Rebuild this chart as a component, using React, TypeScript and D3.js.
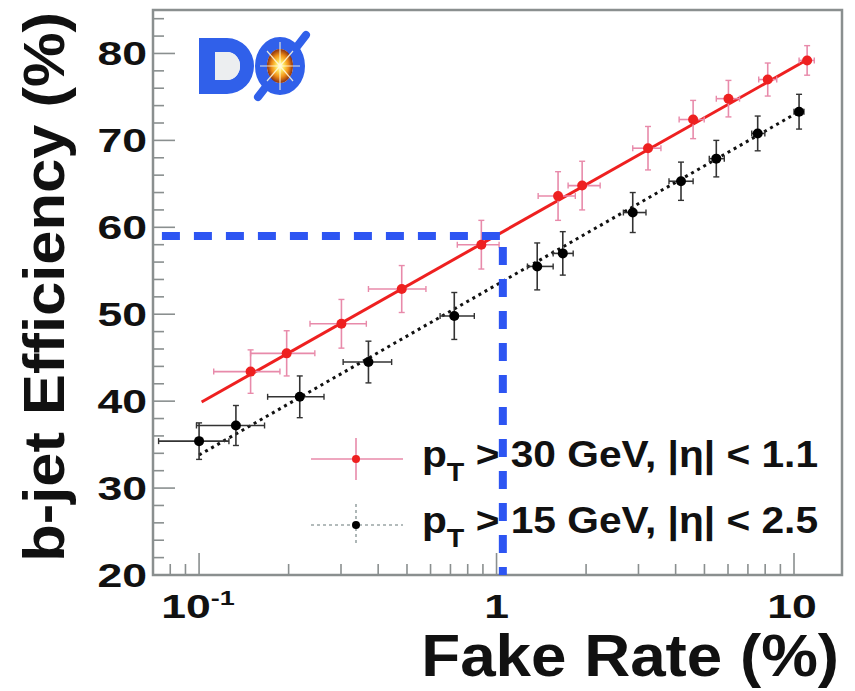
import React from "react";
import * as d3 from "d3";

// pT > 30 GeV, |eta| < 1.1
const redRate = [0.149, 0.197, 0.301, 0.48, 0.889, 1.61, 1.94, 3.23, 4.58, 6.02, 8.16, 11.07];
const redEff = [43.4, 45.5, 48.9, 52.9, 58.0, 63.6, 64.8, 69.1, 72.4, 74.8, 77.0, 79.2];
const redRateLo = [0.112, 0.149, 0.236, 0.371, 0.738, 1.38, 1.74, 2.87, 4.11, 5.48, 7.61, 10.4];
const redRateHi = [0.187, 0.245, 0.365, 0.579, 1.02, 1.84, 2.23, 3.57, 4.99, 6.56, 8.75, 11.7];
const redEffErr = [2.5, 2.6, 2.8, 2.7, 2.8, 2.8, 2.8, 2.5, 2.2, 2.1, 1.9, 1.7];
const redFitRate = [0.102, 11.1];
const redFitEff = [39.9, 79.3];

// pT > 15 GeV, |eta| < 2.5
const blackRate = [0.1, 0.133, 0.218, 0.371, 0.721, 1.37, 1.67, 2.87, 4.17, 5.48, 7.55, 10.4];
const blackEff = [35.4, 37.2, 40.5, 44.5, 49.8, 55.5, 57.0, 61.7, 65.3, 67.9, 70.8, 73.3];
const blackRateLo = [0.0731, 0.098, 0.17, 0.305, 0.646, 1.27, 1.55, 2.67, 3.8, 5.19, 7.21, 10.0];
const blackRateHi = [0.126, 0.166, 0.263, 0.444, 0.842, 1.55, 1.81, 3.18, 4.58, 5.83, 7.98, 10.8];
const blackEffErr = [2.1, 2.3, 2.4, 2.4, 2.7, 2.7, 2.5, 2.3, 2.2, 2.1, 2.0, 2.0];
const blackFitRate = [0.1, 10.4];
const blackFitEff = [33.8, 73.3];

// working point guide
const wpStartRate = 0.075;
const wpRate = 1.05;
const wpEff = 59.0;

const yMajor = [20, 30, 40, 50, 60, 70, 80];
const yMinor = d3.range(20, 85, 2);
const xMajor = [0.1, 1, 10];
const xMinor = [0.08, 0.09, 0.2, 0.3, 0.4, 0.5, 0.6, 0.7, 0.8, 0.9, 2, 3, 4, 5, 6, 7, 8, 9];

const legendLabels = [
  { num: "30", eta: "1.1" },
  { num: "15", eta: "2.5" },
];

const W = 855;
const H = 691;
const L = 153;
const R = 842;
const T = 10;
const B = 575;

const FONT = "'Liberation Sans', Arial, Helvetica, sans-serif";

export default function App() {
  const x = d3.scaleLog().domain([0.07, 14.5]).range([L, R]);
  const y = d3.scaleLinear().domain([20, 85]).range([B, T]);

  const frameColor = "#8a8f8f";
  const red = "#ee2020";
  const pink = "#e88aaa";
  const blue = "#2d55f2";
  const logoBlue = "#3060ea";

  const line = d3
    .line<[number, number]>()
    .x((d) => x(d[0]))
    .y((d) => y(d[1]));

  const redFit: [number, number][] = redFitRate.map((r, i) => [r, redFitEff[i]]);
  const blackFit: [number, number][] = blackFitRate.map((r, i) => [r, blackFitEff[i]]);

  const cap = 3;

  const series = (
    rate: number[],
    eff: number[],
    lo: number[],
    hi: number[],
    err: number[],
    barColor: string,
    markColor: string,
    r: number
  ) =>
    rate.map((v, i) => {
      const cx = x(v);
      const cy = y(eff[i]);
      const y0 = y(eff[i] - err[i]);
      const y1 = y(eff[i] + err[i]);
      const x0 = x(lo[i]);
      const x1 = x(hi[i]);
      return (
        <g key={i}>
          <line x1={x0} x2={x1} y1={cy} y2={cy} stroke={barColor} strokeWidth={1.6} />
          <line x1={cx} x2={cx} y1={y0} y2={y1} stroke={barColor} strokeWidth={1.6} />
          <line x1={cx - cap} x2={cx + cap} y1={y0} y2={y0} stroke={barColor} strokeWidth={1.4} />
          <line x1={cx - cap} x2={cx + cap} y1={y1} y2={y1} stroke={barColor} strokeWidth={1.4} />
          <line x1={x0} x2={x0} y1={cy - cap} y2={cy + cap} stroke={barColor} strokeWidth={1.4} />
          <line x1={x1} x2={x1} y1={cy - cap} y2={cy + cap} stroke={barColor} strokeWidth={1.4} />
          <circle cx={cx} cy={cy} r={r} fill={markColor} />
        </g>
      );
    });

  const tickFont = 33;
  const tickStretch = 1.35;

  const wpPath = `M${x(wpStartRate)},${y(wpEff)} H${x(wpRate)} V${y(20)}`;

  // logo placement
  const lx = 199;
  const ly = 38;
  const ocx = lx + 81;
  const ocy = ly + 28;

  return (
    <svg width={W} height={H} style={{ display: "block", position: "absolute", left: 0, top: 0 }}>
      <defs>
        <radialGradient id="fireball" cx="50%" cy="50%" r="50%">
          <stop offset="0%" stopColor="#fffef0" />
          <stop offset="30%" stopColor="#ffe45a" />
          <stop offset="65%" stopColor="#f09018" />
          <stop offset="100%" stopColor="#8a3010" />
        </radialGradient>
        <clipPath id="slashClip">
          <rect x={lx + 52} y={ly - 8} width={70} height={74} />
        </clipPath>
      </defs>
      <rect x={0} y={0} width={W} height={H} fill="#ffffff" />

      {/* frame */}
      <rect x={L} y={T} width={R - L} height={B - T} fill="none" stroke={frameColor} strokeWidth={2.5} />

      {/* y ticks */}
      {yMinor.map((v) => (
        <line key={"ym" + v} x1={L} x2={L + (v % 10 === 0 ? 22 : 11)} y1={y(v)} y2={y(v)} stroke={frameColor} strokeWidth={1.6} />
      ))}
      {/* x ticks */}
      {xMinor.map((v) => (
        <line key={"xm" + v} x1={x(v)} x2={x(v)} y1={B} y2={B - 11} stroke={frameColor} strokeWidth={1.6} />
      ))}
      {xMajor.map((v) => (
        <line key={"xM" + v} x1={x(v)} x2={x(v)} y1={B} y2={B - 22} stroke={frameColor} strokeWidth={1.6} />
      ))}

      {/* y tick labels */}
      {yMajor.map((v) => (
        <text
          key={"yl" + v}
          transform={`translate(147,${y(v) + 12}) scale(${tickStretch},1)`}
          textAnchor="end"
          fontFamily={FONT}
          fontWeight="bold"
          fontSize={tickFont}
          fill="#111"
        >
          {v}
        </text>
      ))}

      {/* x tick labels */}
      <g fontFamily={FONT} fontWeight="bold" fontSize={tickFont} fill="#111">
        <text transform={`translate(${x(0.1) - 1},618) scale(${tickStretch},1)`} textAnchor="middle">
          10<tspan dy={-13} fontSize={20}>-1</tspan>
        </text>
        <text transform={`translate(${x(1)},618) scale(${tickStretch},1)`} textAnchor="middle">
          1
        </text>
        <text transform={`translate(${x(10) - 2},618) scale(${tickStretch},1)`} textAnchor="middle">
          10
        </text>
      </g>

      {/* axis titles */}
      <text
        transform="translate(64,12) rotate(-90) scale(1.06,1)"
        textAnchor="end"
        fontFamily={FONT}
        fontWeight="bold"
        fontSize={58}
        fill="#111"
      >
        b-jet Efficiency (%)
      </text>
      <text
        transform="translate(839,676) scale(1.08,1)"
        textAnchor="end"
        fontFamily={FONT}
        fontWeight="bold"
        fontSize={59}
        fill="#111"
      >
        Fake Rate (%)
      </text>

      {/* DØ logo */}
      <g>
        <path
          d={`M${lx},${ly} h28 a27,28 0 0 1 0,56 h-28 Z M${lx + 16},${ly + 14} v28 h12 a13,14 0 0 0 0,-28 Z`}
          fill={logoBlue}
          fillRule="evenodd"
        />
        <path d={`M${lx + 16},${ly + 14} v28 h12 a13,14 0 0 0 0,-28 Z`} fill="#eceef0" />
        <g clipPath="url(#slashClip)">
          <line x1={ocx - 22} y1={ocy + 31} x2={ocx + 26} y2={ocy - 31} stroke={logoBlue} strokeWidth={8} strokeLinecap="round" />
        </g>
        <ellipse cx={ocx} cy={ocy} rx={19} ry={23} fill="none" stroke={logoBlue} strokeWidth={12} />
        <ellipse cx={ocx} cy={ocy} rx={13} ry={17} fill="url(#fireball)" />
        <g stroke="#fffbe0" strokeWidth={1.2} opacity={0.85}>
          <line x1={ocx - 20} y1={ocy} x2={ocx + 20} y2={ocy} />
          <line x1={ocx} y1={ocy - 24} x2={ocx} y2={ocy + 24} />
          <line x1={ocx - 13} y1={ocy - 15} x2={ocx + 13} y2={ocy + 15} />
          <line x1={ocx - 13} y1={ocy + 15} x2={ocx + 13} y2={ocy - 15} />
        </g>
      </g>

      {/* fits */}
      <path d={line(blackFit) || ""} fill="none" stroke="#111" strokeWidth={3} strokeDasharray="3,4" />
      <path d={line(redFit) || ""} fill="none" stroke={red} strokeWidth={3} />

      {/* data */}
      {series(blackRate, blackEff, blackRateLo, blackRateHi, blackEffErr, "#333", "#000", 5)}
      {series(redRate, redEff, redRateLo, redRateHi, redEffErr, pink, red, 5)}

      {/* legend */}
      <g>
        <line x1={311} x2={403} y1={459} y2={459} stroke={pink} strokeWidth={1.6} />
        <line x1={356} x2={356} y1={438} y2={480} stroke={pink} strokeWidth={1.6} />
        <circle cx={356} cy={459} r={4} fill={red} />
        <line x1={311} x2={403} y1={525} y2={525} stroke="#9aa5a5" strokeWidth={1.6} strokeDasharray="3,3" />
        <line x1={356} x2={356} y1={504} y2={546} stroke="#9aa5a5" strokeWidth={1.6} strokeDasharray="3,3" />
        <circle cx={356} cy={525} r={4} fill="#000" />
        {legendLabels.map((d, i) => (
          <text
            key={i}
            transform={`translate(422,${467 + i * 66}) scale(1.1,1)`}
            fontFamily={FONT}
            fontWeight="bold"
            fontSize={37}
            fill="#111"
          >
            p
            <tspan dy={14} fontSize={26}>T</tspan>
            <tspan dy={-14}>{` > ${d.num} GeV, |η| < ${d.eta}`}</tspan>
          </text>
        ))}
      </g>

      {/* working point guide */}
      <path d={wpPath} fill="none" stroke={blue} strokeWidth={8} strokeDasharray="18,14" />
    </svg>
  );
}
